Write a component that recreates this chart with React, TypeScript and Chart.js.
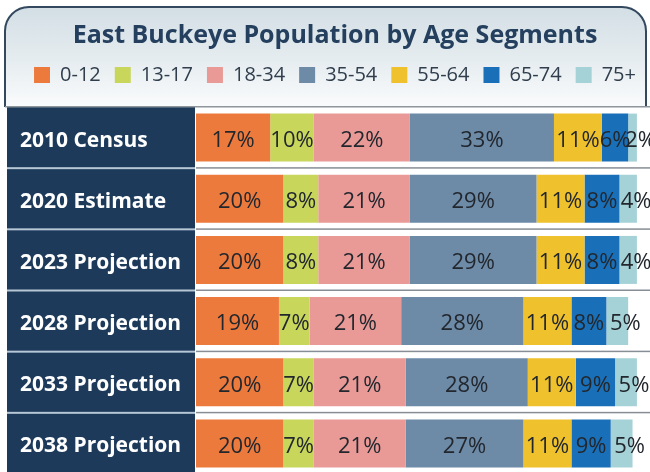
import React, { useEffect, useRef } from 'react';
import { Chart, registerables } from 'chart.js';

Chart.register(...registerables);

const categories = ['2010 Census', '2020 Estimate', '2023 Projection', '2028 Projection', '2033 Projection', '2038 Projection'];
const seriesLabels = ['0-12', '13-17', '18-34', '35-54', '55-64', '65-74', '75+'];
const age0to12 = [17, 20, 20, 19, 20, 20];
const age13to17 = [10, 8, 8, 7, 7, 7];
const age18to34 = [22, 21, 21, 21, 21, 21];
const age35to54 = [33, 29, 29, 28, 28, 27];
const age55to64 = [11, 11, 11, 11, 11, 11];
const age65to74 = [6, 8, 8, 8, 9, 9];
const age75plus = [2, 4, 4, 5, 5, 5];
const seriesValues = [age0to12, age13to17, age18to34, age35to54, age55to64, age65to74, age75plus];
const seriesColors = ['#ec7a3d', '#c8d65c', '#e99a97', '#6d8aa7', '#efc22d', '#1a70b8', '#a5d2d7'];

const FONT = '"Open Sans", "Noto Sans", sans-serif';

const decorPlugin = {
  id: 'decor',
  beforeDraw(chart: any) {
    const { ctx, chartArea, width, height } = chart;
    const top = chartArea.top;
    ctx.save();
    ctx.fillStyle = '#ffffff';
    ctx.fillRect(0, 0, width, height);
    // header box
    const hx = 5, hy = 7, hr = 646, r = 24;
    const g = ctx.createLinearGradient(0, hy, 0, top);
    g.addColorStop(0, '#d3dee5');
    g.addColorStop(0.55, '#e6edf0');
    g.addColorStop(1, '#fafbfc');
    ctx.beginPath();
    ctx.moveTo(hx, top);
    ctx.lineTo(hx, hy + r);
    ctx.arcTo(hx, hy, hx + r, hy, r);
    ctx.lineTo(hr - r, hy);
    ctx.arcTo(hr, hy, hr, hy + r, r);
    ctx.lineTo(hr, top);
    ctx.fillStyle = g;
    ctx.fill();
    ctx.strokeStyle = '#34495f';
    ctx.lineWidth = 2;
    ctx.stroke();
    // navy label column
    ctx.fillStyle = '#1d3a5b';
    ctx.fillRect(7, top, chartArea.left - 1 - 7, height - top);
    // header bottom line
    ctx.fillStyle = '#8e959c';
    ctx.fillRect(5, top - 1, width - 5, 1.5);
    ctx.restore();
  },
  beforeDatasetsDraw(chart: any) {
    const { ctx, chartArea, width } = chart;
    const yScale = chart.scales.y;
    ctx.save();
    for (let i = 1; i < categories.length; i++) {
      const y = (yScale.getPixelForValue(i - 1) + yScale.getPixelForValue(i)) / 2;
      ctx.fillStyle = '#b7c7d6';
      ctx.fillRect(7, y - 1, chartArea.left - 1 - 7, 2);
      ctx.fillStyle = '#878e95';
      ctx.fillRect(chartArea.left, y - 1, width - chartArea.left, 1.5);
    }
    ctx.restore();
  },
  afterDatasetsDraw(chart: any) {
    const { ctx } = chart;
    const last = chart.data.datasets.length - 1;
    ctx.save();
    ctx.font = `22px ${FONT}`;
    ctx.textAlign = 'center';
    ctx.textBaseline = 'middle';
    ctx.fillStyle = '#22272e';
    chart.data.datasets.forEach((ds: any, di: number) => {
      const meta = chart.getDatasetMeta(di);
      const shift = di === last ? 8 : 0;
      meta.data.forEach((bar: any, i: number) => {
        const { x, y, base } = bar.getProps(['x', 'y', 'base'], true);
        ctx.fillText(`${ds.data[i]}%`, (x + base) / 2 + shift, y + 3);
      });
    });
    ctx.restore();
  },
};

export default function App() {
  const ref = useRef<HTMLCanvasElement | null>(null);
  useEffect(() => {
    if (!ref.current) return;
    const chart = new Chart(ref.current, {
      type: 'bar',
      data: {
        labels: categories,
        datasets: seriesLabels.map((label, i) => ({
          label,
          data: seriesValues[i],
          backgroundColor: seriesColors[i],
          borderWidth: 0,
          categoryPercentage: 1,
          barPercentage: 0.785,
        })),
      },
      options: {
        indexAxis: 'y',
        responsive: false,
        animation: false,
        devicePixelRatio: 1,
        layout: { padding: { left: 20, right: 0, top: 0, bottom: 0 } },
        plugins: {
          title: {
            display: true,
            text: 'East Buckeye Population by Age Segments',
            color: '#24405e',
            font: { family: FONT, size: 25, weight: 'bold' },
            padding: { top: 21, bottom: 0 },
          },
          legend: {
            display: true,
            position: 'top',
            labels: {
              boxWidth: 16,
              boxHeight: 16,
              padding: 14,
              color: '#2f3d4c',
              font: { family: FONT, size: 20 },
            },
          },
          tooltip: { enabled: false },
        },
        scales: {
          x: {
            position: 'top',
            stacked: true,
            min: 0,
            max: 104,
            grid: { display: false },
            border: { display: false },
            ticks: { display: false },
            afterFit: (scale: any) => { scale.height = 12; },
          },
          y: {
            stacked: true,
            grid: { display: false },
            border: { display: false },
            ticks: {
              color: '#ffffff',
              crossAlign: 'far',
              padding: 0,
              labelOffset: 3,
              font: { family: FONT, size: 21, weight: 'bold' },
            },
            afterFit: (scale: any) => {
              scale.width = 176;
              scale.paddingTop = 0;
              scale.paddingBottom = 0;
            },
          },
        },
      },
      plugins: [decorPlugin],
    } as any);
    return () => chart.destroy();
  }, []);
  return (
    <div style={{ position: 'fixed', left: 0, top: 0, width: 650, height: 474, overflow: 'hidden', background: '#fff' }}>
      <canvas ref={ref} width={650} height={474} style={{ display: 'block' }} />
    </div>
  );
}
